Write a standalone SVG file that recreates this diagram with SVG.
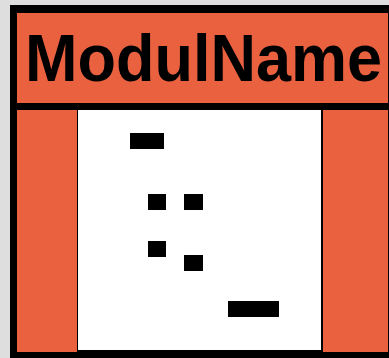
<svg xmlns="http://www.w3.org/2000/svg" width="389" height="358" viewBox="0 0 389 358">
<style>
.blk{fill:#000}
.org{fill:#ea6140}
.title{font-family:"Liberation Sans",Arial,sans-serif;font-weight:bold;font-size:67px;fill:#000}
</style>
<rect x="0" y="0" width="389" height="358" fill="#dedede"/>
<g id="module">
<rect x="10" y="5" width="379" height="353" class="blk"/>
<rect x="17" y="13" width="371" height="90" class="org"/>
<text class="title" x="25" y="81" textLength="357" lengthAdjust="spacingAndGlyphs">ModulName</text>
<rect x="17" y="110" width="60" height="242" class="org"/>
<rect x="78" y="110" width="243" height="240" fill="#fff"/>
<rect x="323" y="110" width="65" height="242" class="org"/>
</g>
<g id="items">
<rect x="130" y="133" width="34" height="16" class="blk"/>
<rect x="148" y="194" width="18" height="16" class="blk"/>
<rect x="184" y="194" width="19" height="16" class="blk"/>
<rect x="148" y="241" width="18" height="16" class="blk"/>
<rect x="184" y="255" width="19" height="16" class="blk"/>
<rect x="228" y="301" width="51" height="16" class="blk"/>
</g>
</svg>
